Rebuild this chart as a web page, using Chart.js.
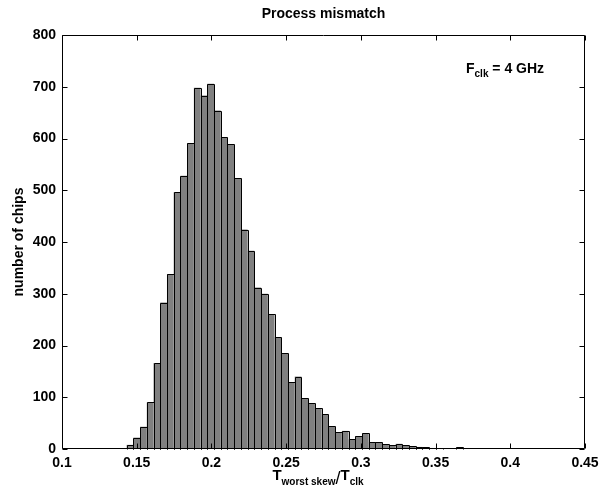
<!DOCTYPE html>
<html>
<head>
<meta charset="utf-8">
<title>Process mismatch</title>
<script src="https://cdn.jsdelivr.net/npm/chart.js@4/dist/chart.umd.min.js"></script>
<style>
  html, body { margin: 0; padding: 0; background: #fff; }
  #histChart { display: block; }
</style>
</head>
<body>
<canvas id="histChart" width="599" height="491"></canvas>
<script>
// ---- data ----
const binCenters = [
  0.1455, 0.1500, 0.1545, 0.1590, 0.1635, 0.1680, 0.1725, 0.1770, 0.1815, 0.1860,
  0.1905, 0.1950, 0.1995, 0.2040, 0.2085, 0.2130, 0.2175, 0.2220, 0.2265, 0.2310,
  0.2355, 0.2400, 0.2445, 0.2490, 0.2535, 0.2580, 0.2625, 0.2670, 0.2715, 0.2760,
  0.2805, 0.2850, 0.2895, 0.2940, 0.2985, 0.3030, 0.3075, 0.3120, 0.3165, 0.3210,
  0.3255, 0.3300, 0.3345, 0.3390, 0.3435, 0.3480, 0.3525, 0.3570, 0.3615, 0.3660
];
const chipCounts = [
  8, 22, 43, 90, 166, 283, 338, 496, 528, 591,
  698, 683, 706, 654, 602, 589, 523, 424, 383, 312,
  300, 260, 216, 185, 129, 140, 98, 88, 79, 67,
  44, 32, 35, 19, 25, 30, 13, 13, 9, 7,
  10, 7, 5, 4, 3, 2, 1, 0, 0, 3
];
const xTickLabels = ['0.1', '0.15', '0.2', '0.25', '0.3', '0.35', '0.4', '0.45'];
const yTickLabels = ['0', '100', '200', '300', '400', '500', '600', '700', '800'];

const FONT = "'Liberation Sans', Arial, Helvetica, sans-serif";

// crisp 1px black edges on the bars chart.js laid out
const barEdges = {
  id: 'barEdges',
  afterDatasetsDraw(chart) {
    const { ctx } = chart;
    const meta = chart.getDatasetMeta(0);
    ctx.save();
    ctx.strokeStyle = '#000';
    ctx.lineWidth = 1;
    meta.data.forEach((bar, i) => {
      if (!chipCounts[i]) return;
      const { x, y, base, width } = bar.getProps(['x', 'y', 'base', 'width'], true);
      const l = Math.round(x - width / 2) + 0.5;
      const r = Math.round(x + width / 2) + 0.5;
      const t = Math.round(y) + 0.5;
      const b = Math.round(base) + 0.5;
      ctx.beginPath();
      ctx.moveTo(l, b); ctx.lineTo(l, t); ctx.lineTo(r, t); ctx.lineTo(r, b);
      ctx.stroke();
    });
    ctx.restore();
  }
};

// frame + inward ticks, matlab style
const frameTicks = {
  id: 'frameTicks',
  afterDraw(chart) {
    const { ctx, chartArea: a, scales: { x, y } } = chart;
    const L = Math.round(a.left) + 0.5, R = Math.round(a.right) - 0.5;
    const T = Math.round(a.top) + 0.5, B = Math.round(a.bottom) - 0.5;
    const len = 5;
    ctx.save();
    ctx.strokeStyle = '#000';
    ctx.lineWidth = 1;
    ctx.beginPath();
    ctx.rect(L, T, R - L, B - T);
    x.ticks.forEach(t => {
      const px = Math.round(x.getPixelForValue(t.value)) + 0.5;
      ctx.moveTo(px, B); ctx.lineTo(px, B - len);
      ctx.moveTo(px, T); ctx.lineTo(px, T + len);
    });
    y.ticks.forEach(t => {
      const py = Math.round(y.getPixelForValue(t.value)) + 0.5;
      ctx.moveTo(L, py); ctx.lineTo(L + len, py);
      ctx.moveTo(R, py); ctx.lineTo(R - len, py);
    });
    ctx.stroke();
    ctx.restore();
  }
};

// title, axis labels with subscripts, annotation
const textLabels = {
  id: 'textLabels',
  afterDraw(chart) {
    const { ctx, chartArea: a } = chart;
    const cx = (a.left + a.right) / 2;
    ctx.save();
    ctx.fillStyle = '#000';

    // title
    ctx.font = `bold 14px ${FONT}`;
    ctx.textAlign = 'center';
    ctx.textBaseline = 'alphabetic';
    ctx.fillText('Process mismatch', cx, 18);

    // y label
    ctx.save();
    ctx.translate(23, (a.top + a.bottom) / 2);
    ctx.rotate(-Math.PI / 2);
    ctx.font = `bold 14px ${FONT}`;
    ctx.fillText('number of chips', 0, 0);
    ctx.restore();

    // x label: T_worst skew / T_clk
    ctx.textAlign = 'left';
    const parts = [
      { s: 'T', f: `bold 15px ${FONT}`, dy: 0 },
      { s: 'worst skew', f: `bold 10px ${FONT}`, dy: 5 },
      { s: '/', f: `18px ${FONT}`, dy: 4 },
      { s: 'T', f: `bold 15px ${FONT}`, dy: 0 },
      { s: 'clk', f: `bold 10px ${FONT}`, dy: 5 }
    ];
    let w = 0;
    parts.forEach(p => { ctx.font = p.f; p.w = ctx.measureText(p.s).width; w += p.w; });
    let xx = 318 - w / 2;
    const base = 480;
    parts.forEach(p => { ctx.font = p.f; ctx.fillText(p.s, xx, base + p.dy); xx += p.w; });

    // annotation F_clk = 4 GHz
    const ann = [
      { s: 'F', f: `bold 14px ${FONT}`, dy: 0 },
      { s: 'clk', f: `bold 10px ${FONT}`, dy: 4 },
      { s: ' = 4 GHz', f: `bold 14px ${FONT}`, dy: 0 }
    ];
    xx = 466;
    ann.forEach(p => { ctx.font = p.f; ctx.fillText(p.s, xx, 73 + p.dy); xx += ctx.measureText(p.s).width; });

    ctx.restore();
  }
};

const ctx = document.getElementById('histChart').getContext('2d');
const histChart = new Chart(ctx, {
  type: 'bar',
  data: {
    datasets: [{
      data: binCenters.map((c, i) => ({ x: c, y: chipCounts[i] })),
      backgroundColor: '#808080',
      borderWidth: 0,
      inflateAmount: 0,
      barPercentage: 1.0,
      categoryPercentage: 1.0
    }]
  },
  options: {
    responsive: false,
    animation: false,
    devicePixelRatio: 1,
    layout: { padding: { top: 35, right: 14, left: 0, bottom: 0 } },
    plugins: {
      legend: { display: false },
      tooltip: { enabled: false },
      title: { display: false }
    },
    scales: {
      x: {
        type: 'linear',
        min: 0.1,
        max: 0.45,
        offset: false,
        grid: { display: false, drawTicks: false },
        border: { display: false },
        ticks: {
          stepSize: 0.05,
          autoSkip: false,
          maxRotation: 0,
          padding: 6,
          color: '#000',
          font: { family: FONT, size: 14, weight: 'bold' },
          callback: (v, i) => xTickLabels[i]
        },
        afterFit: s => { s.height = 42; s.paddingLeft = 0; s.paddingRight = 0; }
      },
      y: {
        min: 0,
        max: 800,
        grid: { display: false, drawTicks: false },
        border: { display: false },
        ticks: {
          stepSize: 100,
          padding: 6,
          color: '#000',
          font: { family: FONT, size: 14, weight: 'bold' },
          callback: (v, i) => yTickLabels[i]
        },
        afterFit: s => { s.width = 62; }
      }
    }
  },
  plugins: [barEdges, frameTicks, textLabels]
});
</script>
</body>
</html>
